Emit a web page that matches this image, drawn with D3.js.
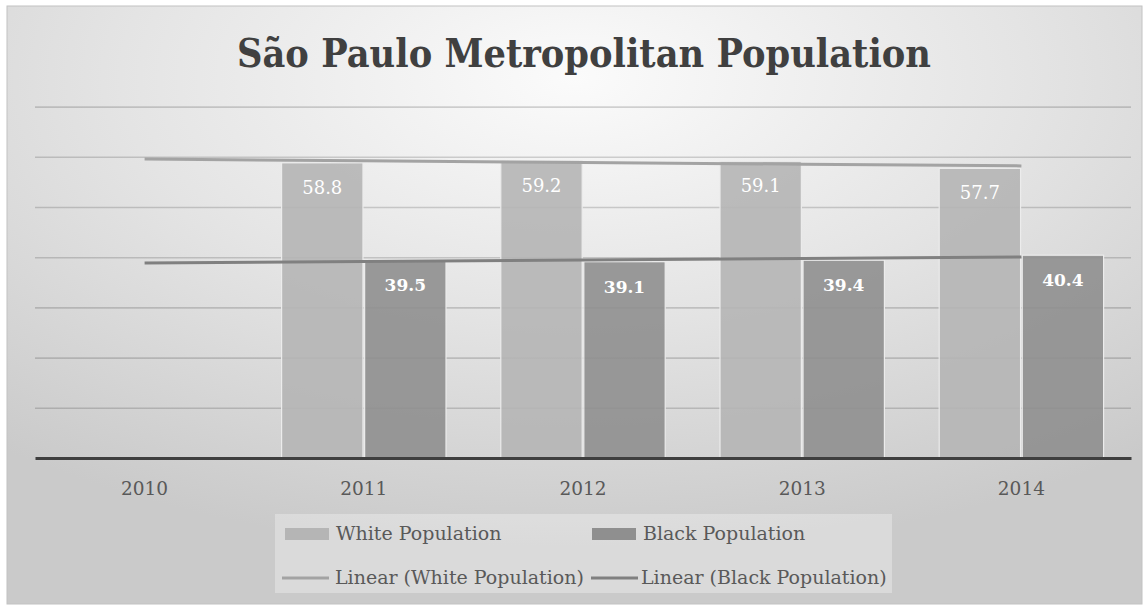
<!DOCTYPE html>
<html>
<head>
<meta charset="utf-8">
<script src="https://cdn.jsdelivr.net/npm/d3@7"></script>
<style>
  html, body { margin: 0; padding: 0; background: #ffffff; }
  svg { display: block; }
</style>
</head>
<body>
<svg id="chart" width="1145" height="607"></svg>
<script>
// ---- data ----
const categories = ["2010", "2011", "2012", "2013", "2014"];
const seriesNames = ["White Population", "Black Population"];
const whiteValues = [null, 58.8, 59.2, 59.1, 57.7];
const blackValues = [null, 39.5, 39.1, 39.4, 40.4];
const yTicks = [0, 10, 20, 30, 40, 50, 60, 70];
const titleText = "São Paulo Metropolitan Population";
const legendLabels = ["White Population", "Black Population", "Linear (White Population)", "Linear (Black Population)"];

// ---- setup ----
const svg = d3.select("#chart");
const serif = "'DejaVu Serif', 'Liberation Serif', serif";

const defs = svg.append("defs");
const grad = defs.append("radialGradient")
  .attr("id", "bg").attr("cx", "50%").attr("cy", "12%").attr("r", "80%")
  .attr("fx", "50%").attr("fy", "12%");
grad.append("stop").attr("offset", "0%").attr("stop-color", "#fbfbfb");
grad.append("stop").attr("offset", "50%").attr("stop-color", "#e4e4e4");
grad.append("stop").attr("offset", "100%").attr("stop-color", "#cacaca");

// chart frame
svg.append("rect").attr("x", 7).attr("y", 6).attr("width", 1135).attr("height", 598)
  .attr("fill", "url(#bg)").attr("stroke", "#c2c2c2").attr("stroke-width", 1);

// scales
const plotL = 35, plotR = 1131;
const x0 = d3.scaleBand().domain(categories).range([plotL, plotR]).paddingInner(0).paddingOuter(0);
const bw = x0.bandwidth();
const gw = bw * 0.75;
const x1 = d3.scaleBand().domain(seriesNames).range([(bw - gw) / 2, (bw + gw) / 2]).paddingInner(0.02);
const y = d3.scaleLinear().domain([0, 70]).range([458, 106.6]);

// gridlines
const gridAxis = d3.axisLeft(y).tickValues(yTicks.filter(t => t > 0)).tickSize(-(plotR - plotL)).tickFormat("");
const gg = svg.append("g").attr("transform", `translate(${plotL},0)`).call(gridAxis);
gg.select(".domain").remove();
gg.selectAll(".tick line").attr("stroke", "rgba(0,0,0,0.16)").attr("stroke-width", 1.6);

// bars
const colors = { "White Population": "#b5b5b5", "Black Population": "#8f8f8f" };
const seriesData = [
  { name: "White Population", values: whiteValues, bold: false },
  { name: "Black Population", values: blackValues, bold: true }
];
const barsG = svg.append("g");
seriesData.forEach(s => {
  const pts = categories.map((c, i) => ({ c, v: s.values[i] })).filter(d => d.v != null);
  barsG.selectAll(null).data(pts).enter().append("rect")
    .attr("x", d => x0(d.c) + x1(s.name))
    .attr("y", d => y(d.v))
    .attr("width", x1.bandwidth())
    .attr("height", d => y(0) - y(d.v))
    .attr("fill", colors[s.name])
    .attr("fill-opacity", 0.9)
    .attr("stroke", "#ececec")
    .attr("stroke-width", 1.2);
  barsG.selectAll(null).data(pts).enter().append("text")
    .attr("x", d => x0(d.c) + x1(s.name) + x1.bandwidth() / 2)
    .attr("y", d => y(d.v) + 31)
    .attr("text-anchor", "middle")
    .attr("font-family", serif)
    .attr("font-size", s.bold ? 17 : 18)
    .attr("font-weight", s.bold ? "bold" : "normal")
    .attr("fill", "#ffffff")
    .text(d => d.v.toFixed(1));
});

// x axis
const xAxis = d3.axisBottom(x0).tickSize(0).tickPadding(0);
const xg = svg.append("g").attr("transform", "translate(0,458)").call(xAxis);
xg.select(".domain").attr("stroke", "#3f3f3f").attr("stroke-width", 3);
xg.selectAll(".tick text")
  .attr("font-family", serif).attr("font-size", 18.5).attr("fill", "#595959")
  .attr("dy", null).attr("y", 37);

// linear trendlines (least squares over category index, as the spreadsheet does)
function trend(values) {
  const pts = values.map((v, i) => [i + 1, v]).filter(p => p[1] != null);
  const mx = d3.mean(pts, p => p[0]), my = d3.mean(pts, p => p[1]);
  const sxy = d3.sum(pts, p => (p[0] - mx) * (p[1] - my));
  const sxx = d3.sum(pts, p => (p[0] - mx) ** 2);
  const b = sxy / sxx, a = my - b * mx;
  return categories.map((c, i) => ({ c, v: a + b * (i + 1) }));
}
const line = d3.line().x(d => x0(d.c) + bw / 2).y(d => y(d.v));
const trendColors = ["#a3a3a3", "#808080"];
[whiteValues, blackValues].forEach((vals, k) => {
  svg.append("path").datum(trend(vals))
    .attr("d", line).attr("fill", "none")
    .attr("stroke", trendColors[k]).attr("stroke-width", 3);
});

// title
svg.append("text")
  .attr("x", 584).attr("y", 67)
  .attr("text-anchor", "middle")
  .attr("font-family", serif).attr("font-weight", "bold").attr("font-size", 40)
  .attr("fill", "#404040")
  .attr("textLength", 694).attr("lengthAdjust", "spacingAndGlyphs")
  .text(titleText);

// legend
const lg = svg.append("g");
lg.append("rect").attr("x", 275).attr("y", 514).attr("width", 617).attr("height", 79)
  .attr("fill", "rgba(255,255,255,0.3)");
const legendItems = [
  { type: "rect", color: colors["White Population"], sx: 285, tx: 336, row: 0, label: legendLabels[0] },
  { type: "rect", color: colors["Black Population"], sx: 592, tx: 643, row: 0, label: legendLabels[1] },
  { type: "line", color: trendColors[0], sx: 282, tx: 335, row: 1, label: legendLabels[2] },
  { type: "line", color: trendColors[1], sx: 591, tx: 641, row: 1, label: legendLabels[3] }
];
const rowY = [534, 578];
legendItems.forEach(it => {
  const cy = rowY[it.row];
  if (it.type === "rect") {
    lg.append("rect").attr("x", it.sx).attr("y", cy - 6).attr("width", 44).attr("height", 12)
      .attr("fill", it.color);
  } else {
    lg.append("line").attr("x1", it.sx).attr("x2", it.sx + 47).attr("y1", cy).attr("y2", cy)
      .attr("stroke", it.color).attr("stroke-width", 3);
  }
  lg.append("text").attr("x", it.tx).attr("y", cy + 6)
    .attr("font-family", serif).attr("font-size", 19).attr("fill", "#595959")
    .text(it.label);
});
</script>
</body>
</html>
